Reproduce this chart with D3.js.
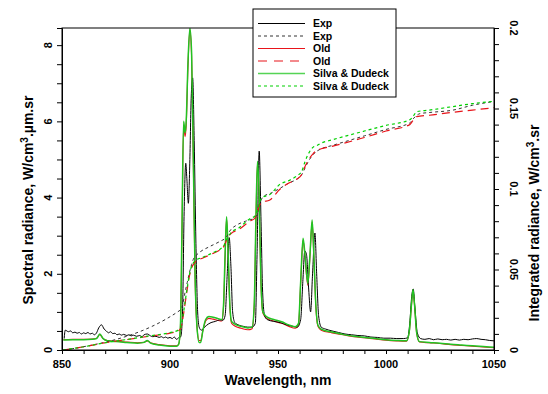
<!DOCTYPE html>
<html><head><meta charset="utf-8">
<script src="https://cdn.jsdelivr.net/npm/d3@7/dist/d3.min.js"></script>
<style>
body{margin:0;background:#fff;}
svg{display:block;}
.tick-lbl{font-family:"Liberation Sans Narrow","Arial Narrow","Liberation Sans",Arial,sans-serif;font-weight:bold;font-size:11px;fill:#000;}
.title{font-family:"Liberation Sans",Arial,Helvetica,sans-serif;font-weight:bold;font-size:14px;fill:#000;}
.leg{font-family:"Liberation Sans",Arial,Helvetica,sans-serif;font-weight:bold;font-size:10.5px;fill:#000;}
</style></head>
<body>
<svg id="c" width="548" height="394"></svg>
<script>
// ---------- DATA ----------
const xTicks = [850, 900, 950, 1000, 1050];
const yLeftTicks = [0, 2, 4, 6, 8];
const yRightTicks = [0, 0.05, 0.1, 0.15, 0.2];
const yRightLabels = ["0", "0.05", "0.1", "0.15", "0.2"];
const seriesNames = ["Exp", "Exp", "Old", "Old", "Silva & Dudeck", "Silva & Dudeck"];

// Exp spectral radiance (W/cm3.um.sr)
const expWl = [851,851.5,853,854,855,856,857,858,859,860,861,862,863,864,865,866,867,868.3,869.5,870.5,871.5,872.5,873.5,874.5,875.5,876.5,877.5,878.5,880,881,882,883,884.5,886,887,888,889.5,891,892,893.5,895,896,897,898,899,900,901,902,903,904,905,905.8,906.5,907.3,907.8,908.5,909.2,909.8,910.5,911.2,912,912.8,913.5,914.5,916,917.7,919,921,923,924.5,925.5,926.5,927.4,928.2,929,930,932,934,936,938,939.5,940.3,941.3,942.1,942.9,943.8,945,948,951,954,957,959,960.5,961.5,962.4,963.2,964.2,965.1,966,967.1,967.9,968.8,970,972,975,978,981,984,987,990,993,996,999,1002,1005,1008,1010,1011,1011.9,1012.6,1013.4,1014.5,1016,1018,1020,1022,1024,1026,1028,1030,1032,1034,1036,1038,1040,1042,1044,1046,1048,1050];
const expSpec = [0.3,0.52,0.48,0.5,0.45,0.47,0.44,0.46,0.42,0.45,0.43,0.46,0.42,0.44,0.4,0.45,0.58,0.66,0.55,0.5,0.45,0.48,0.43,0.44,0.4,0.42,0.39,0.41,0.38,0.4,0.37,0.39,0.36,0.38,0.35,0.4,0.42,0.37,0.35,0.36,0.33,0.35,0.32,0.34,0.31,0.33,0.3,0.34,0.28,0.32,0.35,1.0,3.5,4.9,4.5,3.85,5.0,6.6,7.14,5.5,2.8,1.0,0.6,0.52,0.6,0.68,0.72,0.75,0.79,0.78,0.9,2.0,2.95,2.2,1.0,0.72,0.65,0.62,0.6,0.6,0.7,2.5,5.22,3.5,1.5,0.9,0.8,0.75,0.72,0.66,0.62,0.6,0.8,1.8,2.6,2.5,1.6,1.0,2.0,3.07,2.0,0.9,0.6,0.55,0.5,0.46,0.42,0.4,0.38,0.37,0.34,0.33,0.31,0.31,0.3,0.3,0.32,0.7,1.4,1.6,1.1,0.45,0.3,0.28,0.3,0.27,0.29,0.27,0.28,0.26,0.28,0.26,0.28,0.27,0.29,0.3,0.28,0.27,0.25,0.24];

// Model spectral radiance
const modWl = [850.6,855,860,864,866,867.5,869,871,875,880,885,888,889.5,891,895,900,903,904,904.8,905.5,906.3,907,907.5,908.3,909.2,910,910.8,911.6,912.5,913.5,914.2,915.2,916.5,918,920,922,924,924.8,925.5,926.2,926.9,927.7,928.5,930,933,936,938,939,939.8,940.5,941.2,942,943,944.8,948,951.7,955,958,959.5,960.5,961.6,962.5,963.8,964.8,965.8,966.6,967.5,968.5,970,975,980,985,990,995,1000,1005,1009.5,1010.8,1011.8,1012.5,1013.2,1014.2,1015.5,1020,1025,1030,1035,1040,1045,1050];
const silvaSpec = [0.26,0.27,0.27,0.28,0.3,0.42,0.3,0.24,0.22,0.2,0.18,0.2,0.25,0.18,0.13,0.1,0.1,0.15,0.6,3.0,6.0,5.7,6.0,7.5,8.45,7.8,5.0,2.0,0.6,0.2,0.2,0.5,0.8,0.88,0.86,0.83,0.8,1.2,2.5,3.5,2.6,1.2,0.75,0.68,0.62,0.58,0.6,1.2,3.5,4.95,4.2,2.0,1.0,0.87,0.8,0.74,0.66,0.61,0.7,1.8,2.93,2.5,1.75,2.5,3.41,2.5,1.2,0.65,0.55,0.47,0.41,0.36,0.33,0.3,0.27,0.25,0.24,0.5,1.2,1.59,1.2,0.45,0.22,0.2,0.18,0.15,0.13,0.11,0.09,0.07];
const oldSpec = [0.27,0.28,0.28,0.29,0.31,0.4,0.3,0.25,0.23,0.21,0.19,0.2,0.24,0.19,0.14,0.11,0.11,0.15,0.55,2.9,5.9,5.6,5.9,7.4,8.4,7.7,4.9,1.9,0.6,0.25,0.25,0.5,0.76,0.83,0.81,0.78,0.76,1.15,2.4,3.45,2.55,1.15,0.7,0.63,0.57,0.53,0.56,1.15,3.4,4.9,4.15,1.95,0.97,0.83,0.76,0.7,0.62,0.57,0.66,1.75,2.88,2.45,1.7,2.45,3.36,2.45,1.15,0.62,0.52,0.45,0.4,0.35,0.32,0.29,0.26,0.24,0.23,0.48,1.18,1.57,1.18,0.44,0.21,0.19,0.17,0.14,0.12,0.1,0.08,0.06];

// Integrated radiance (W/cm3.sr)
const expIntWl = [851.5,905,906,907,908,909,910,911,912.3,914,918,923,926,928,931,935,939,940.5,941.5,942.5,944,946,951,955.5,958.6,961,962.5,964,966,968,970,975,990,1000,1011,1012.5,1015.7,1020,1031,1040,1050];
const expInt = [0,0.025,0.029,0.036,0.042,0.048,0.053,0.057,0.059,0.061,0.064,0.0674,0.07,0.0745,0.0777,0.08,0.082,0.085,0.09,0.094,0.096,0.097,0.1005,0.104,0.106,0.109,0.113,0.117,0.121,0.1235,0.125,0.127,0.133,0.137,0.141,0.1435,0.1468,0.1475,0.149,0.152,0.1544];
const modIntWl = [850.5,860,870,880,890,900,904,905,906,907,908,909,910,911,912.3,915,920,923,925,926.5,928,932,937,939.5,940.5,941.5,943,946,951,955.5,958.6,961,962.5,966.3,968,970,975,990,1000,1011,1012.5,1014.2,1020,1030,1040,1050];
const oldInt = [0,0.002,0.0045,0.0065,0.0085,0.0105,0.012,0.0135,0.02,0.029,0.038,0.046,0.051,0.0535,0.0555,0.057,0.06,0.062,0.0645,0.069,0.072,0.075,0.08,0.082,0.086,0.09,0.092,0.093,0.1,0.104,0.106,0.109,0.114,0.122,0.124,0.125,0.1265,0.132,0.136,0.14,0.1425,0.145,0.1458,0.1475,0.149,0.1505];
const silvaInt = [0,0.002,0.0045,0.0065,0.0087,0.0108,0.0125,0.014,0.021,0.03,0.039,0.047,0.052,0.0545,0.056,0.0575,0.0605,0.0625,0.065,0.0695,0.0725,0.076,0.0815,0.0835,0.087,0.092,0.095,0.0964,0.103,0.1055,0.108,0.111,0.117,0.126,0.127,0.1285,0.1305,0.136,0.1395,0.143,0.145,0.148,0.149,0.151,0.153,0.1545];

// ---------- CHART ----------
const svg = d3.select("#c");
const L = 62, R = 494, T = 28, B = 350;
const x = d3.scaleLinear().domain([850, 1050]).range([L, R]);
const yL = d3.scaleLinear().domain([0, 8.45]).range([B, T]);
const yR = d3.scaleLinear().domain([0, 0.2]).range([B, T]);

svg.append("defs").append("clipPath").attr("id", "clip")
  .append("rect").attr("x", L).attr("y", T).attr("width", R - L).attr("height", B - T);

const plot = svg.append("g").attr("clip-path", "url(#clip)");
const zip = (a, b) => a.map((v, i) => [v, b[i]]);

function draw(wl, vals, ys, color, width, dash) {
  const line = d3.line().x(d => x(d[0])).y(d => ys(d[1])).curve(d3.curveMonotoneX);
  plot.append("path").datum(zip(wl, vals))
    .attr("d", line).attr("fill", "none")
    .attr("stroke", color).attr("stroke-width", width)
    .attr("stroke-dasharray", dash || null)
    .attr("stroke-linejoin", "round");
}
const colExp = "#000", colExpD = "#333", colOld = "#e8141a", colSil = "#22c322", colSilD = "#00d000";

draw(modWl, oldSpec, yL, colOld, 1.1);
draw(expWl, expSpec, yL, colExp, 1);
draw(modWl, silvaSpec, yL, colSil, 1.5);
draw(expIntWl, expInt, yR, colExpD, 1, "3,3");
draw(modIntWl, oldInt, yR, colOld, 1.2, "8,5");
draw(modIntWl, silvaInt, yR, colSilD, 1.2, "3,3");

// frame
svg.append("rect").attr("x", L).attr("y", T).attr("width", R - L).attr("height", B - T)
  .attr("fill", "none").attr("stroke", "#000").attr("stroke-width", 1);

// axes
const axB = svg.append("g").attr("transform", `translate(0,${B})`)
  .call(d3.axisBottom(x).tickValues(d3.range(850, 1051, 10)).tickSize(4).tickFormat(""));
const axL = svg.append("g").attr("transform", `translate(${L},0)`)
  .call(d3.axisLeft(yL).tickValues(d3.range(0, 8.01, 0.5)).tickSize(5).tickFormat(""));
const axR = svg.append("g").attr("transform", `translate(${R},0)`)
  .call(d3.axisRight(yR).tickValues(d3.range(0, 0.2001, 0.01)).tickSize(5).tickFormat(""));
[axB, axL, axR].forEach(a => { a.select(".domain").attr("stroke", "#000"); a.selectAll(".tick line").attr("stroke", "#000"); });

// tick labels
svg.append("g").selectAll("text").data(xTicks).join("text").attr("class", "tick-lbl")
  .attr("x", d => x(d)).attr("y", 368).attr("text-anchor", "middle").text(d => d);
svg.append("g").selectAll("text").data(yLeftTicks).join("text").attr("class", "tick-lbl")
  .attr("transform", d => `translate(52,${yL(d)}) rotate(-90)`).attr("text-anchor", "middle").text(d => d);
svg.append("g").selectAll("text").data(yRightTicks).join("text").attr("class", "tick-lbl")
  .attr("transform", d => `translate(510,${yR(d)}) rotate(90)`).attr("text-anchor", "middle").text((d, i) => yRightLabels[i]);

// titles
svg.append("text").attr("class", "title").attr("x", (L + R) / 2).attr("y", 385).attr("text-anchor", "middle").text("Wavelength, nm");
const tl = svg.append("text").attr("class", "title").attr("transform", "translate(33,200) rotate(-90)").attr("text-anchor", "middle");
tl.append("tspan").text("Spectral radiance, W/cm");
tl.append("tspan").attr("dy", -5).attr("font-size", "10px").text("3");
tl.append("tspan").attr("dy", 5).text(".\u00b5m.sr");
const tr = svg.append("text").attr("class", "title").attr("transform", "translate(539,223) rotate(-90)").attr("text-anchor", "middle");
tr.append("tspan").text("Integrated radiance, W/cm");
tr.append("tspan").attr("dy", -5).attr("font-size", "10px").text("3");
tr.append("tspan").attr("dy", 5).text(".sr");

// legend
const leg = svg.append("g");
leg.append("rect").attr("x", 253).attr("y", 9).attr("width", 143).attr("height", 88)
  .attr("fill", "#fff").attr("stroke", "#000").attr("stroke-width", 1);
const legStyles = [
  {c: colExp, w: 1, d: null}, {c: colExpD, w: 1, d: "3,3"},
  {c: colOld, w: 1.1, d: null}, {c: colOld, w: 1.2, d: "9,7"},
  {c: "#55d455", w: 1.6, d: null}, {c: colSilD, w: 1.2, d: "3,3"}
];
seriesNames.forEach((n, i) => {
  const yy = 23.5 + i * 12.5;
  leg.append("line").attr("x1", 258).attr("x2", 305).attr("y1", yy).attr("y2", yy)
    .attr("stroke", legStyles[i].c).attr("stroke-width", legStyles[i].w)
    .attr("stroke-dasharray", legStyles[i].d);
  leg.append("text").attr("class", "leg").attr("x", 313).attr("y", yy + 3.8).text(n);
});
</script>
</body></html>
